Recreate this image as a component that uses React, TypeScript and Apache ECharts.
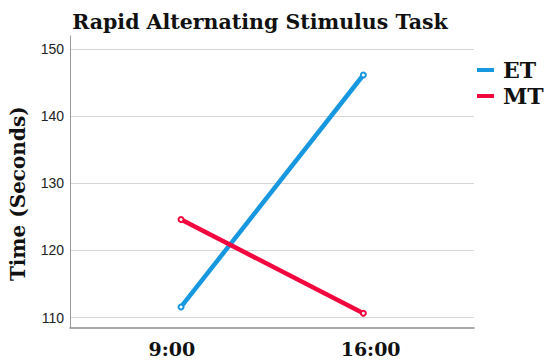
import React, { useEffect, useRef } from "react";
import * as echarts from "echarts";

const categories = ["9:00", "16:00"];
const categoryPositions = [0, 1];
const labelPositions = [-0.05, 1.04];
const etValues = [111.6, 146.1];
const mtValues = [124.6, 110.65];
const yTicks = [110, 120, 130, 140, 150];

const SERIF = "'DejaVu Serif', 'Liberation Serif', serif";
const SANS = "'Liberation Sans', Arial, sans-serif";

export default function App() {
  const ref = useRef<HTMLDivElement>(null);
  useEffect(() => {
    if (!ref.current) return;
    const chart = echarts.init(ref.current, undefined, { renderer: "svg" });
    const mk = (vals: number[]) => vals.map((v, i) => [categoryPositions[i], v]);
    chart.setOption({
      animation: false,
      backgroundColor: "#ffffff",
      title: {
        text: "Rapid Alternating Stimulus Task",
        left: 255,
        textAlign: "center",
        top: 6,
        textStyle: { fontFamily: SERIF, fontWeight: "bold", fontSize: 20.5, color: "#111" },
      },
      legend: {
        left: 477,
        top: 59,
        orient: "vertical",
        icon: "rect",
        itemWidth: 17,
        itemHeight: 4,
        itemGap: 4,
        padding: 0,
        textStyle: { fontFamily: SERIF, fontWeight: "bold", fontSize: 22, color: "#111", padding: [0, 0, 0, 4] },
        data: ["ET", "MT"],
      },
      grid: { left: 64, right: 76, top: 36, bottom: 36.5, containLabel: false },
      xAxis: {
        type: "value",
        min: -0.609,
        max: 1.607,
        axisLine: { show: true, onZero: false, lineStyle: { color: "#8c8c8c", width: 1.5 } },
        axisTick: { show: false },
        splitLine: { show: false },
        axisLabel: {
          customValues: labelPositions,
          formatter: (v: number) => (v < 0.5 ? categories[0] : categories[1]),
          fontFamily: SERIF,
          fontWeight: "bold",
          fontSize: 19,
          color: "#111",
          margin: 12,
        },
      },
      yAxis: {
        type: "value",
        min: 108.54,
        max: 151.9,
        name: "Time (Seconds)",
        nameLocation: "middle",
        nameGap: 42,
        nameTextStyle: { fontFamily: SERIF, fontWeight: "bold", fontSize: 20, color: "#111", padding: [0, 24, 0, 0] },
        axisLine: { show: true, onZero: false, lineStyle: { color: "#9a9a9a", width: 1 } },
        axisTick: { show: false, customValues: yTicks },
        axisLabel: { customValues: yTicks, fontFamily: SANS, fontSize: 14, color: "#222", margin: 6 },
        splitLine: { show: true, lineStyle: { color: "#d6d6d6", width: 1.2 } },
      },
      series: [
        {
          name: "ET",
          type: "line",
          data: mk(etValues),
          color: "#1797e0",
          lineStyle: { width: 4.5, color: "#1797e0" },
          symbol: "emptyCircle",
          symbolSize: 5,
          itemStyle: { color: "#1797e0", borderWidth: 1 },
        },
        {
          name: "MT",
          type: "line",
          data: mk(mtValues),
          color: "#f2073e",
          lineStyle: { width: 4.5, color: "#f2073e" },
          symbol: "emptyCircle",
          symbolSize: 5,
          itemStyle: { color: "#f2073e", borderWidth: 1 },
        },
      ],
    });
    return () => chart.dispose();
  }, []);
  return <div ref={ref} style={{ width: 550, height: 364, position: "absolute", left: 0, top: 0 }} />;
}
